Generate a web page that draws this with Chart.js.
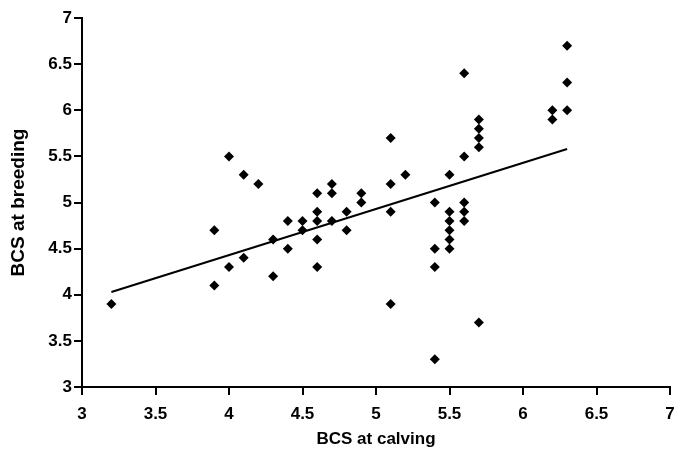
<!DOCTYPE html>
<html>
<head>
<meta charset="utf-8">
<script src="https://cdn.jsdelivr.net/npm/chart.js@4/dist/chart.umd.min.js"></script>
<style>
  html, body { margin: 0; padding: 0; background: #fff; }
  #wrap { width: 684px; height: 454px; }
</style>
</head>
<body>
<div id="wrap"><canvas id="bcsChart"></canvas></div>
<script>
// BCS at calving (x) and BCS at breeding (y), one entry per cow
const calving = [
    3.2,
    3.9, 3.9,
    4.0, 4.0,
    4.1, 4.1,
    4.2,
    4.3, 4.3,
    4.4, 4.4,
    4.5, 4.5,
    4.6, 4.6, 4.6, 4.6, 4.6,
    4.7, 4.7, 4.7,
    4.8, 4.8,
    4.9, 4.9,
    5.1, 5.1, 5.1, 5.1,
    5.2,
    5.4, 5.4, 5.4, 5.4,
    5.5, 5.5, 5.5, 5.5, 5.5, 5.5,
    5.6, 5.6, 5.6, 5.6, 5.6,
    5.7, 5.7, 5.7, 5.7, 5.7,
    6.2, 6.2,
    6.3, 6.3, 6.3
];
const breeding = [
    3.9,
    4.7, 4.1,
    5.5, 4.3,
    5.3, 4.4,
    5.2,
    4.6, 4.2,
    4.8, 4.5,
    4.8, 4.7,
    5.1, 4.9, 4.8, 4.6, 4.3,
    5.2, 5.1, 4.8,
    4.9, 4.7,
    5.1, 5.0,
    5.7, 5.2, 4.9, 3.9,
    5.3,
    5.0, 4.5, 4.3, 3.3,
    5.3, 4.9, 4.8, 4.7, 4.6, 4.5,
    6.4, 5.5, 5.0, 4.9, 4.8,
    5.9, 5.8, 5.7, 5.6, 3.7,
    6.0, 5.9,
    6.7, 6.3, 6.0
];

// fitted line, end points
const fitX = [3.2, 6.3];
const fitY = [4.03, 5.58];

const axisTicks = [3, 3.5, 4, 4.5, 5, 5.5, 6, 6.5, 7];

const family = '"Liberation Sans", Arial, sans-serif';
const tickFont = { family: family, size: 17, weight: 'bold' };

function fixedTicks(axis) {
    axis.ticks = axisTicks.map(v => ({ value: v }));
}

const ctx = document.getElementById('bcsChart').getContext('2d');
new Chart(ctx, {
    type: 'scatter',
    data: {
        datasets: [{
            label: 'Cows',
            data: calving.map((x, i) => ({ x: x, y: breeding[i] })),
            pointStyle: 'rectRot',
            pointRadius: 5,
            backgroundColor: '#000',
            borderColor: '#000',
            borderWidth: 0
        }, {
            label: 'Fit',
            type: 'line',
            data: fitX.map((x, i) => ({ x: x, y: fitY[i] })),
            showLine: true,
            pointRadius: 0,
            borderColor: '#000',
            borderWidth: 2
        }]
    },
    options: {
        responsive: true,
        maintainAspectRatio: false,
        animation: false,
        layout: { padding: { top: 18, right: 14, left: 0, bottom: 0 } },
        plugins: {
            legend: { display: false },
            tooltip: { enabled: false }
        },
        scales: {
            x: {
                type: 'linear',
                min: 3,
                max: 7,
                afterBuildTicks: fixedTicks,
                afterFit: s => { s.height = 67; },
                border: { color: '#000', width: 2 },
                grid: { drawOnChartArea: false, drawTicks: true, tickLength: 8, color: '#000', lineWidth: 2 },
                ticks: { color: '#000', font: tickFont, padding: 9, maxRotation: 0, callback: v => String(v) },
                title: { display: true, text: 'BCS at calving', color: '#000', font: { family: family, size: 17, weight: 'bold' }, padding: { bottom: 4 } }
            },
            y: {
                type: 'linear',
                min: 3,
                max: 7,
                afterBuildTicks: fixedTicks,
                afterFit: s => { s.width = 82; },
                border: { color: '#000', width: 2 },
                grid: { drawOnChartArea: false, drawTicks: true, tickLength: 8, color: '#000', lineWidth: 2 },
                ticks: { color: '#000', font: tickFont, padding: 2, callback: v => String(v) },
                title: { display: true, text: 'BCS at breeding', color: '#000', font: { family: family, size: 19, weight: 'bold' }, padding: { top: 7 } }
            }
        }
    }
});
</script>
</body>
</html>
